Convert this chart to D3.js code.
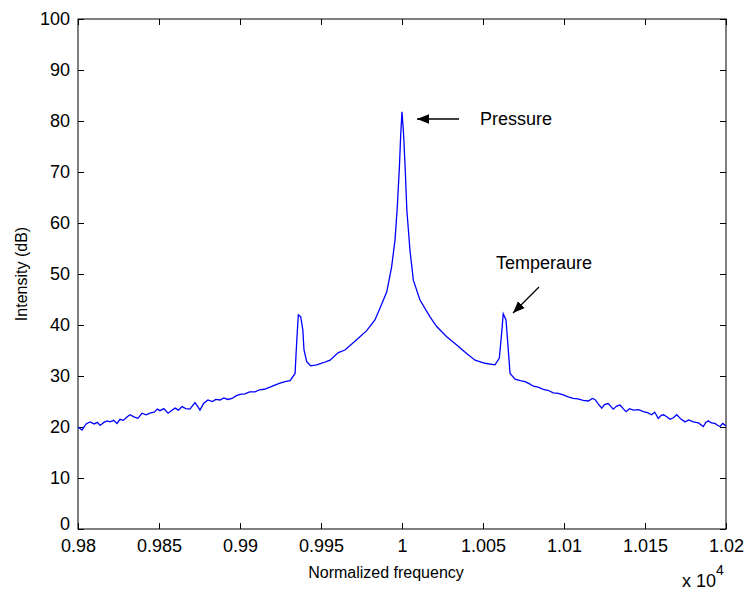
<!DOCTYPE html>
<html>
<head>
<meta charset="utf-8">
<script src="https://cdn.jsdelivr.net/npm/d3@7"></script>
<style>
  body { margin: 0; background: #fff; }
  text { font-family: "Liberation Sans", Arial, sans-serif; fill: #000; }
</style>
</head>
<body>
<script>
// spectrum (frequency in units of 1e4, intensity in dB)
var freq = [
  0.98000, 0.98025, 0.98050, 0.98074, 0.98100, 0.98120, 0.98136, 0.98160, 0.98180, 0.98198,
  0.98220, 0.98241, 0.98259, 0.98280, 0.98300, 0.98321, 0.98345, 0.98370, 0.98395, 0.98420,
  0.98444, 0.98470, 0.98490, 0.98506, 0.98530, 0.98556, 0.98580, 0.98599, 0.98620, 0.98642,
  0.98665, 0.98691, 0.98710, 0.98722, 0.98740, 0.98753, 0.98775, 0.98802, 0.98830, 0.98850,
  0.98877, 0.98900, 0.98925, 0.98951, 0.98975, 0.99000, 0.99030, 0.99060, 0.99093, 0.99120,
  0.99150, 0.99185, 0.99215, 0.99247, 0.99278, 0.99309, 0.99340, 0.99350, 0.99360, 0.99375,
  0.99388, 0.99395, 0.99412, 0.99436, 0.99473, 0.99514, 0.99556, 0.99607, 0.99648, 0.99720,
  0.99782, 0.99833, 0.99864, 0.99906, 0.99936, 0.99957, 0.99971, 0.99984, 0.99992, 1.00000,
  1.00010, 1.00020, 1.00030, 1.00049, 1.00070, 1.00111, 1.00173, 1.00214, 1.00276, 1.00338,
  1.00399, 1.00451, 1.00512, 1.00574, 1.00601, 1.00615, 1.00625, 1.00642, 1.00653, 1.00667,
  1.00698, 1.00730, 1.00759, 1.00785, 1.00811, 1.00840, 1.00872, 1.00900, 1.00934, 1.00965,
  1.00996, 1.01025, 1.01057, 1.01085, 1.01119, 1.01150, 1.01175, 1.01191, 1.01210, 1.01233,
  1.01250, 1.01273, 1.01290, 1.01304, 1.01325, 1.01346, 1.01365, 1.01383, 1.01405, 1.01428,
  1.01460, 1.01490, 1.01515, 1.01541, 1.01560, 1.01582, 1.01600, 1.01614, 1.01635, 1.01654,
  1.01675, 1.01696, 1.01720, 1.01747, 1.01770, 1.01798, 1.01830, 1.01860, 1.01875, 1.01891,
  1.01910, 1.01932, 1.01950, 1.01963, 1.01980, 1.02000
];
var intensity = [
  20.0, 19.4, 20.6, 21.0, 20.6, 20.9, 20.3, 20.9, 21.2, 21.0,
  21.3, 20.7, 21.5, 21.3, 21.9, 22.4, 22.0, 21.7, 22.7, 22.4,
  22.7, 22.9, 23.5, 23.2, 23.6, 22.7, 23.3, 23.7, 23.3, 24.0,
  23.6, 23.5, 24.3, 24.8, 24.0, 23.3, 24.6, 25.3, 25.0, 25.4,
  25.3, 25.7, 25.4, 25.6, 26.1, 26.4, 26.5, 26.9, 26.9, 27.3,
  27.4, 27.8, 28.2, 28.6, 28.9, 29.1, 30.5, 36.7, 42.0, 41.6,
  39.0, 35.1, 32.8, 32.0, 32.2, 32.6, 33.1, 34.6, 35.1, 37.1,
  38.9, 41.0, 43.3, 46.5, 51.4, 56.7, 63.2, 71.0, 77.3, 81.8,
  77.3, 70.4, 62.5, 54.7, 48.8, 44.9, 41.6, 39.7, 37.7, 36.1,
  34.4, 33.1, 32.5, 32.2, 33.5, 38.4, 42.2, 41.0, 36.4, 30.5,
  29.4, 29.1, 28.9, 28.5, 28.0, 27.8, 27.4, 27.2, 26.7, 26.6,
  26.3, 25.9, 25.6, 25.5, 25.2, 25.1, 25.6, 25.4, 24.6, 23.7,
  24.4, 24.6, 24.0, 23.5, 24.1, 24.3, 23.6, 23.0, 23.6, 23.3,
  23.4, 23.0, 22.8, 22.4, 22.9, 21.7, 22.3, 22.4, 22.0, 21.5,
  21.8, 22.4, 21.6, 21.0, 21.4, 21.0, 20.8, 20.1, 20.9, 21.2,
  20.8, 20.7, 20.3, 20.1, 20.7, 20.2
];
var xTicks = [0.98, 0.985, 0.99, 0.995, 1, 1.005, 1.01, 1.015, 1.02];
var xTickLabels = ["0.98", "0.985", "0.99", "0.995", "1", "1.005", "1.01", "1.015", "1.02"];
var yTicks = [0, 10, 20, 30, 40, 50, 60, 70, 80, 90, 100];

var width = 746, height = 592;
var margin = {top: 19, right: 20, bottom: 63, left: 78};
var w = width - margin.left - margin.right,
    h = height - margin.top - margin.bottom;

var svg = d3.select("body").append("svg")
    .attr("width", width)
    .attr("height", height);

var g = svg.append("g")
    .attr("transform", "translate(" + margin.left + "," + margin.top + ")");

var x = d3.scaleLinear().domain([0.98, 1.02]).range([0, w]);
var y = d3.scaleLinear().domain([0, 100]).range([h, 0]);

// axes: inward ticks on all four sides, labels bottom and left only
g.append("g")
    .attr("transform", "translate(0," + h + ")")
    .call(d3.axisBottom(x).tickValues(xTicks)
        .tickFormat(function (d, i) { return xTickLabels[i]; })
        .tickSizeInner(-6).tickSizeOuter(0).tickPadding(10));
g.append("g")
    .call(d3.axisTop(x).tickValues(xTicks).tickFormat("")
        .tickSizeInner(-6).tickSizeOuter(0));
var yAxis = g.append("g")
    .call(d3.axisLeft(y).tickValues(yTicks)
        .tickSizeInner(-6).tickSizeOuter(0).tickPadding(8));
g.append("g")
    .attr("transform", "translate(" + w + ",0)")
    .call(d3.axisRight(y).tickValues(yTicks).tickFormat("")
        .tickSizeInner(-6).tickSizeOuter(0));

g.selectAll(".domain").remove();
g.selectAll(".tick line").attr("stroke", "#000").attr("stroke-width", 1);
g.selectAll(".tick text")
    .style("font-family", "'Liberation Sans', Arial, sans-serif")
    .style("font-size", "18px")
    .attr("fill", "#000");

// the lowest y label sits a little higher, clear of the x labels
yAxis.selectAll(".tick text")
    .filter(function (d) { return d === 0; })
    .attr("dy", "0.05em");

g.append("rect")
    .attr("width", w)
    .attr("height", h)
    .attr("fill", "none")
    .attr("stroke", "#000")
    .attr("stroke-width", 1);

// the spectrum
var line = d3.line()
    .x(function (d, i) { return x(freq[i]); })
    .y(function (d) { return y(d); });

g.append("path")
    .datum(intensity)
    .attr("fill", "none")
    .attr("stroke", "#0000ff")
    .attr("stroke-width", 1.3)
    .attr("d", line);

// axis titles
svg.append("text")
    .attr("x", 386)
    .attr("y", 578)
    .attr("text-anchor", "middle")
    .style("font-size", "16px")
    .text("Normalized frequency");

svg.append("text")
    .attr("transform", "translate(27," + (margin.top + h / 2) + ") rotate(-90)")
    .attr("text-anchor", "middle")
    .style("font-size", "16px")
    .text("Intensity (dB)");

var mult = svg.append("text")
    .attr("x", 682)
    .attr("y", 587)
    .style("font-size", "18px");
mult.append("tspan").text("x 10");
mult.append("tspan").attr("dy", -12).style("font-size", "14px").text("4");

// annotations
svg.append("defs").append("marker")
    .attr("id", "head")
    .attr("viewBox", "0 0 10 10")
    .attr("refX", 10).attr("refY", 5)
    .attr("markerWidth", 12).attr("markerHeight", 12)
    .attr("markerUnits", "userSpaceOnUse")
    .attr("orient", "auto")
    .append("path")
    .attr("d", "M0,1 L10,5 L0,9 Z")
    .attr("fill", "#000");

svg.append("line")
    .attr("x1", 459).attr("y1", 119)
    .attr("x2", 417).attr("y2", 119)
    .attr("stroke", "#000").attr("stroke-width", 1.3)
    .attr("marker-end", "url(#head)");
svg.append("text")
    .attr("x", 480).attr("y", 125)
    .style("font-size", "18px")
    .text("Pressure");

svg.append("line")
    .attr("x1", 539).attr("y1", 287)
    .attr("x2", 513).attr("y2", 313)
    .attr("stroke", "#000").attr("stroke-width", 1.3)
    .attr("marker-end", "url(#head)");
svg.append("text")
    .attr("x", 496).attr("y", 269)
    .style("font-size", "18px")
    .text("Temperaure");
</script>
</body>
</html>
